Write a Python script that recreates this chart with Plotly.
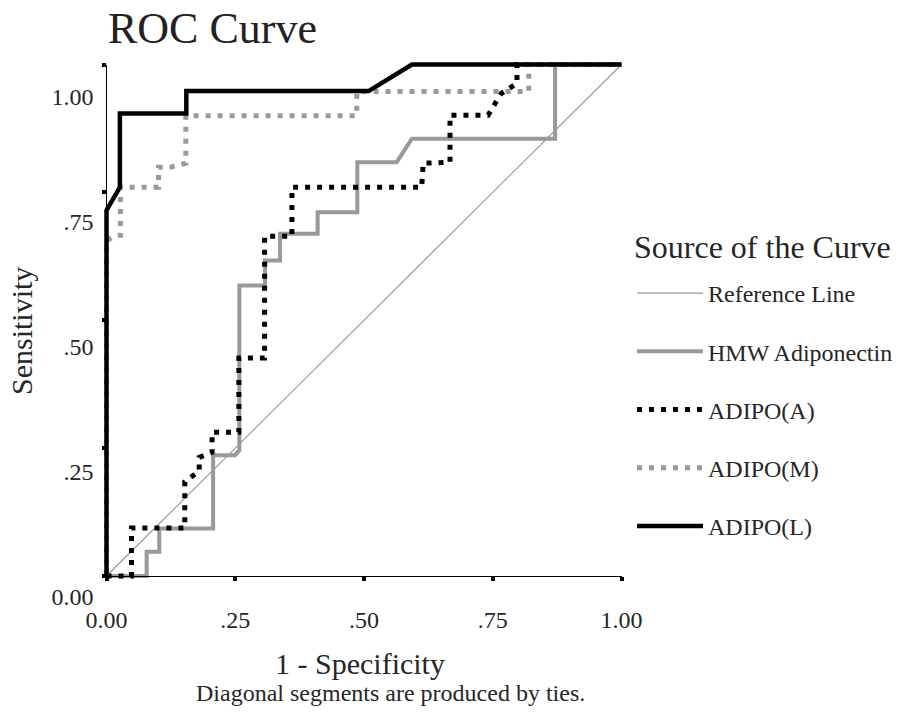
import plotly.graph_objects as go

# ---------------- data ----------------
ref_fpr = [0.0, 1.0]
ref_sens = [0.0, 1.0]

hmw_fpr = [0.0, 0.078, 0.078, 0.1025, 0.1025, 0.207, 0.207, 0.2495, 0.258, 0.258,
           0.308, 0.308, 0.337, 0.337, 0.410, 0.410, 0.487, 0.487, 0.5635, 0.593,
           0.871, 0.871, 1.0]
hmw_sens = [0.0, 0.0, 0.0475, 0.0475, 0.093, 0.093, 0.236, 0.236, 0.246, 0.568,
            0.568, 0.617, 0.617, 0.669, 0.669, 0.711, 0.711, 0.809, 0.809, 0.855,
            0.855, 1.0, 1.0]

a_fpr = [0.0, 0.0485, 0.0485, 0.152, 0.152, 0.180, 0.180, 0.205, 0.205, 0.257,
         0.257, 0.307, 0.307, 0.360, 0.360, 0.612, 0.615, 0.667, 0.667, 0.741,
         0.766, 0.797, 0.797, 1.0]
a_sens = [0.0, 0.0, 0.094, 0.094, 0.184, 0.205, 0.232, 0.242, 0.281, 0.281,
          0.426, 0.426, 0.664, 0.664, 0.760, 0.760, 0.807, 0.809, 0.901, 0.901,
          0.943, 0.963, 1.0, 1.0]

m_fpr = [0.0, 0.0, 0.0198, 0.027, 0.027, 0.101, 0.101, 0.123, 0.154, 0.154,
         0.486, 0.486, 0.820, 0.820, 1.0]
m_sens = [0.0, 0.656, 0.666, 0.666, 0.760, 0.760, 0.799, 0.799, 0.807, 0.900,
          0.900, 0.947, 0.947, 1.0, 1.0]

l_fpr = [0.0, 0.0, 0.026, 0.026, 0.155, 0.155, 0.509, 0.593, 1.0]
l_sens = [0.0, 0.715, 0.760, 0.904, 0.904, 0.948, 0.948, 1.0, 1.0]

tick_vals = [0.0, 0.25, 0.5, 0.75, 1.0]
tick_text = ["0.00", ".25", ".50", ".75", "1.00"]

# ---------------- layout geometry ----------------
W, H = 905, 713
X0, X1 = 106.5, 621.5      # pixel of value 0 and 1 on x
Y0, Y1 = 576.0, 64.5       # pixel of value 0 and 1 on y
PL, PR, PT, PB = 100, 628, 58, 582   # main plotting area (slightly larger to avoid clipping)

sx = (X1 - X0)
sy = (Y0 - Y1)
x_range = [(PL - X0) / sx, (PR - X0) / sx]
y_range = [(Y0 - PB) / sy, (Y0 - PT) / sy]
x2_dom = [(X0 - PL) / (PR - PL), (X1 - PL) / (PR - PL)]
y2_dom = [(PB - Y0) / (PB - PT), (PB - Y1) / (PB - PT)]

LABEL_SCALE = 500.0   # label spacing in the reference (px per unit)
LABEL_DROP = 21       # 0.00 label sits this far below the axis
y3_range = [0.0, sy / LABEL_SCALE]


def px_x(px):
    return (px - PL) / (PR - PL)


def px_y(py):
    return (PB - py) / (PB - PT)


FONT = "Liberation Serif, Times New Roman, serif"
TXT = "#262626"
GRAY = "#999999"

fig = go.Figure()

fig.add_trace(go.Scatter(x=ref_fpr, y=ref_sens, mode="lines", name="Reference Line",
                         line=dict(color=GRAY, width=1.2), legendgroup="g1"))
fig.add_trace(go.Scatter(x=hmw_fpr, y=hmw_sens, mode="lines", name="HMW Adiponectin",
                         line=dict(color=GRAY, width=4), legendgroup="g2"))
fig.add_trace(go.Scatter(x=a_fpr, y=a_sens, mode="lines", name="ADIPO(A)",
                         line=dict(color="#000000", width=5, dash="5px,7px"), legendgroup="g3"))
fig.add_trace(go.Scatter(x=m_fpr, y=m_sens, mode="lines", name="ADIPO(M)",
                         line=dict(color=GRAY, width=5, dash="5px,7px"), legendgroup="g4"))
fig.add_trace(go.Scatter(x=l_fpr, y=l_sens, mode="lines", name="ADIPO(L)",
                         line=dict(color="#000000", width=4.5), legendgroup="g5"))

# empty carriers for the decorative axes
fig.add_trace(go.Scatter(x=[], y=[], xaxis="x2", yaxis="y2", showlegend=False, hoverinfo="skip"))
fig.add_trace(go.Scatter(x=[], y=[], xaxis="x2", yaxis="y3", showlegend=False, hoverinfo="skip"))

fig.update_layout(
    width=W, height=H, autosize=False,
    margin=dict(l=PL, r=W - PR, t=PT, b=H - PB, pad=0, autoexpand=False),
    paper_bgcolor="white", plot_bgcolor="rgba(0,0,0,0)",
    hovermode=False,
    font=dict(family=FONT, color=TXT),
    title=dict(text="ROC Curve", x=108 / W, xref="container", xanchor="left",
               y=1 - 28 / H, yref="container", yanchor="middle",
               font=dict(size=44, family=FONT, color="#222222")),
    xaxis=dict(domain=[0, 1], range=x_range, visible=False, fixedrange=True),
    yaxis=dict(domain=[0, 1], range=y_range, visible=False, fixedrange=True),
    xaxis2=dict(domain=x2_dom, range=[0, 1], anchor="y2", showline=True, linecolor="black",
                linewidth=1, ticks="outside", ticklen=4, tickwidth=3.5, tickcolor="black",
                tickvals=tick_vals, ticktext=tick_text, showgrid=False, zeroline=False,
                tickfont=dict(size=24, family=FONT, color=TXT), ticklabelstandoff=18,
                fixedrange=True, automargin=False),
    yaxis2=dict(domain=y2_dom, range=[0, 1], anchor="x2", showline=True, linecolor="black",
                linewidth=1, ticks="outside", ticklen=4, tickwidth=3.5, tickcolor="black",
                tickvals=tick_vals, showticklabels=False, showgrid=False, zeroline=False,
                fixedrange=True, automargin=False),
    yaxis3=dict(overlaying="y2", anchor="x2", side="left", range=y3_range,
                tickvals=tick_vals, ticktext=tick_text, ticks="", showline=False,
                showgrid=False, zeroline=False, ticklabelshift=LABEL_DROP,
                ticklabelstandoff=12, tickfont=dict(size=24, family=FONT, color=TXT),
                fixedrange=True, automargin=False),
    legend=dict(x=px_x(632), y=px_y(271), xanchor="left", yanchor="top",
                font=dict(size=24, family=FONT, color=TXT),
                tracegroupgap=24, itemwidth=66, bgcolor="rgba(0,0,0,0)",
                traceorder="grouped"),
    annotations=[
        dict(text="Source of the Curve", x=px_x(632), y=px_y(247), xref="paper", yref="paper",
             showarrow=False, xanchor="left", yanchor="middle",
             font=dict(size=32, family=FONT, color=TXT)),
        dict(text="Sensitivity", x=px_x(21), y=px_y(331), xref="paper", yref="paper",
             textangle=-90, showarrow=False, xanchor="center", yanchor="middle",
             font=dict(size=30, family=FONT, color=TXT)),
        dict(text="1 - Specificity", x=px_x(360), y=px_y(663), xref="paper", yref="paper",
             showarrow=False, xanchor="center", yanchor="middle",
             font=dict(size=30, family=FONT, color=TXT)),
        dict(text="Diagonal segments are produced by ties.", x=px_x(390), y=px_y(693),
             xref="paper", yref="paper", showarrow=False, xanchor="center", yanchor="middle",
             font=dict(size=24, family=FONT, color=TXT)),
    ],
)

fig.write_html("out.html", config={"displayModeBar": False},
               post_script="document.body.style.margin='0px';")
